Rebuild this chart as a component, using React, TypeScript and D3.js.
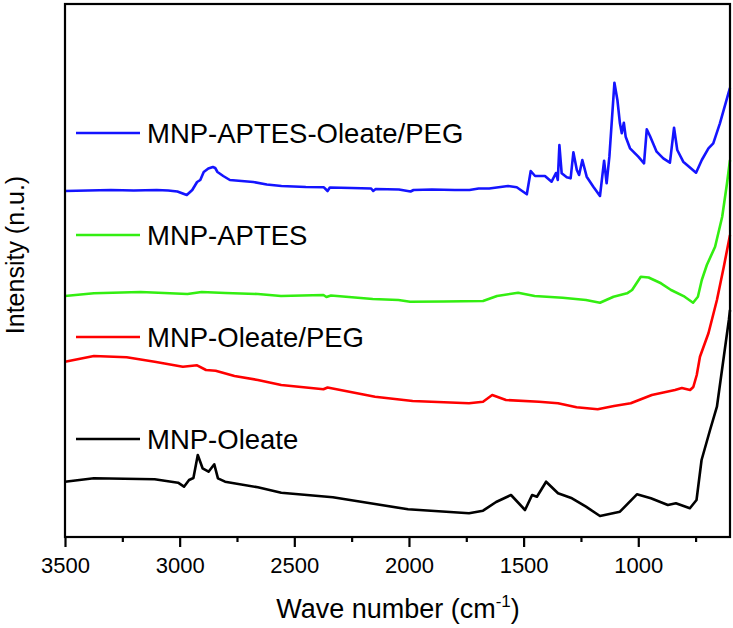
import React, { useEffect, useRef } from "react";
import * as d3 from "d3";

// [wave number (cm-1), intensity (n.u., offset already applied)]
const mnpAptesOleatePeg: [number, number][] = [
	[3500, 346], [3400, 346.5], [3300, 347], [3200, 346.5], [3100, 347], [3050, 346.5],
	[3010, 345.5], [2969, 342], [2945, 347], [2924, 355], [2910, 357], [2895, 365],
	[2875, 368.5], [2855, 370], [2845, 369], [2835, 365], [2810, 361], [2781, 357],
	[2730, 356], [2679, 355], [2620, 352.5], [2556, 351], [2450, 350], [2371, 349.7],
	[2355, 346], [2345, 349.5], [2250, 349], [2165, 348.5], [2156, 346], [2145, 348],
	[2044, 347.5], [1993, 345.5], [1980, 347], [1900, 347.5], [1800, 347], [1736, 347],
	[1696, 348.5], [1650, 348.5], [1568, 351], [1530, 349.7], [1486, 342.7], [1469, 366],
	[1450, 361], [1407, 361], [1378, 355.3], [1359, 364], [1351, 357], [1344, 392],
	[1334, 363.7], [1312, 359.7], [1295, 358.7], [1283, 384.7], [1268, 367], [1258, 362],
	[1244, 377], [1225, 360.3], [1196, 350.3], [1167, 341], [1149, 376.3], [1138, 353.7],
	[1126, 380.3], [1104, 454.3], [1091, 437], [1080, 413.7], [1072, 403.7], [1063, 414.3],
	[1055, 400.3], [1036, 388.7], [1000, 380.3], [975, 373.7], [963, 407.7], [949, 401],
	[920, 385.3], [891, 378.7], [862, 374.3], [844, 409.3], [830, 387], [804, 375.3],
	[748, 364.3], [723, 377], [694, 388.7], [673, 393.7], [644, 413.7], [607, 443.7],
	[600, 449],
];

const mnpAptes: [number, number][] = [
	[3500, 241], [3374, 243.7], [3170, 245], [2966, 243], [2904, 245], [2800, 244],
	[2659, 243], [2558, 241], [2373, 242], [2360, 240], [2340, 241.5], [2158, 238],
	[2046, 237], [1995, 235.3], [1850, 235.5], [1677, 236], [1616, 241], [1524, 244.3],
	[1452, 241], [1330, 239.3], [1228, 237], [1167, 234.3], [1108, 240.3], [1049, 243.7],
	[1027, 247], [989, 260.3], [955, 259.5], [901, 253.7], [857, 247], [798, 240.3],
	[761, 234.3], [740, 240.3], [723, 257], [701, 272], [665, 290.3], [634, 320.3],
	[613, 353.7], [600, 377],
];

const mnpOleatePeg: [number, number][] = [
	[3500, 175.3], [3374, 181], [3231, 179.7], [3109, 175.3], [2986, 170.3], [2924, 171.7],
	[2885, 167], [2843, 166.3], [2761, 161], [2659, 157], [2557, 152], [2373, 147.7],
	[2355, 149.5], [2148, 140.3], [1984, 136], [1738, 133.7], [1677, 135.3], [1637, 142],
	[1577, 137], [1433, 135.3], [1350, 133.7], [1269, 129.7], [1177, 127.7], [1106, 131],
	[1033, 133.7], [941, 142], [840, 147], [810, 149], [774, 147], [760, 150], [745, 162],
	[731, 180.3], [694, 203.7], [657, 237], [627, 270.3], [600, 302],
];

const mnpOleate: [number, number][] = [
	[3500, 55.3], [3374, 58.7], [3109, 57.7], [3007, 54.3], [2981, 50.3], [2959, 57],
	[2940, 59], [2921, 82], [2900, 68.7], [2874, 65.3], [2849, 72.7], [2833, 58.7],
	[2802, 55.3], [2659, 49.7], [2557, 44.3], [2332, 39.7], [2148, 33], [2004, 27.7],
	[1738, 23.7], [1677, 26.3], [1620, 35], [1555, 42], [1494, 27], [1463, 42],
	[1442, 40.3], [1402, 55.3], [1350, 43.7], [1289, 38.7], [1228, 30.3], [1167, 21],
	[1080, 25.3], [1006, 42.7], [945, 38.7], [871, 32], [836, 33.7], [775, 28.7],
	[746, 37], [724, 77], [687, 107], [657, 130.3], [627, 180.3], [605, 217], [600, 227],
];

const seriesLabels = ["MNP-APTES-Oleate/PEG", "MNP-APTES", "MNP-Oleate/PEG", "MNP-Oleate"];
const seriesColors = ["#1414ff", "#33ee11", "#ff0000", "#000000"];
const seriesData = [mnpAptesOleatePeg, mnpAptes, mnpOleatePeg, mnpOleate];

const majorTicks = [3500, 3000, 2500, 2000, 1500, 1000];
const minorTicks = [3250, 2750, 2250, 1750, 1250, 750];

const W = 733;
const H = 628;
const margin = { left: 65, right: 3, top: 4, bottom: 91 };
const FONT = "'Liberation Sans', Arial, Helvetica, sans-serif";

const App: React.FC = () => {
	const svgRef = useRef<SVGSVGElement | null>(null);

	useEffect(() => {
		const svg = d3.select(svgRef.current);
		svg.selectAll("*").remove();

		const x0 = margin.left;
		const x1 = W - margin.right;
		const y0 = H - margin.bottom;
		const y1 = margin.top;

		const x = d3.scaleLinear().domain([3500, 600]).range([x0, x1]);
		const y = d3.scaleLinear().domain([0, 533]).range([y0, y1]);

		const line = d3
			.line<[number, number]>()
			.x((d) => x(d[0]))
			.y((d) => y(d[1]));

		// curves
		seriesData.forEach((s, i) => {
			svg.append("path")
				.datum(s)
				.attr("d", line)
				.attr("fill", "none")
				.attr("stroke", seriesColors[i])
				.attr("stroke-width", 2.6)
				.attr("stroke-linejoin", "round");
		});

		// frame
		svg.append("rect")
			.attr("x", x0)
			.attr("y", y1)
			.attr("width", x1 - x0)
			.attr("height", y0 - y1)
			.attr("fill", "none")
			.attr("stroke", "#000")
			.attr("stroke-width", 2.2);

		// x axis, major
		const gx = svg
			.append("g")
			.attr("transform", `translate(0,${y0})`)
			.call(
				d3
					.axisBottom(x)
					.tickValues(majorTicks)
					.tickSize(10)
					.tickPadding(10)
					.tickFormat(d3.format("d"))
			);
		gx.select(".domain").remove();
		gx.selectAll(".tick line").attr("stroke-width", 2.2);
		gx.selectAll(".tick text")
			.style("font-family", FONT)
			.style("font-size", "22px")
			.attr("fill", "#000");

		// x axis, minor
		const gm = svg
			.append("g")
			.attr("transform", `translate(0,${y0})`)
			.call(d3.axisBottom(x).tickValues(minorTicks).tickSize(5).tickFormat(() => ""));
		gm.select(".domain").remove();
		gm.selectAll(".tick line").attr("stroke-width", 2.2);

		// axis titles
		const xt = svg
			.append("text")
			.attr("x", 398)
			.attr("y", 618)
			.attr("text-anchor", "middle")
			.style("font-family", FONT)
			.style("font-size", "27px");
		xt.append("tspan").text("Wave number (cm");
		xt.append("tspan").attr("dy", -11).style("font-size", "17px").text("-1");
		xt.append("tspan").attr("dy", 11).text(")");

		svg.append("text")
			.attr("transform", `translate(24,255) rotate(-90)`)
			.attr("text-anchor", "middle")
			.style("font-family", FONT)
			.style("font-size", "25px")
			.text("Intensity (n.u.)");

		// legend
		const legendY = [133, 235, 337, 439];
		seriesLabels.forEach((label, i) => {
			svg.append("line")
				.attr("x1", 76)
				.attr("x2", 140)
				.attr("y1", legendY[i])
				.attr("y2", legendY[i])
				.attr("stroke", seriesColors[i])
				.attr("stroke-width", 2.6);
			svg.append("text")
				.attr("x", 147)
				.attr("y", legendY[i] + 10)
				.style("font-family", FONT)
				.style("font-size", "27.5px")
				.text(label);
		});
	}, []);

	return (
		<svg
			ref={svgRef}
			width={W}
			height={H}
			style={{ position: "absolute", left: 0, top: 0, background: "#fff" }}
		></svg>
	);
};

export default App;
